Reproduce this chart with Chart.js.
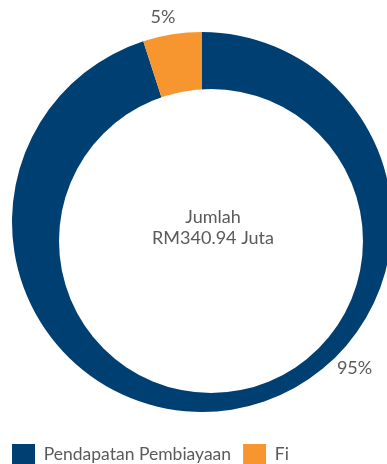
<!DOCTYPE html>
<html><head><meta charset="utf-8">
<script src="https://cdn.jsdelivr.net/npm/chart.js@4.4.0/dist/chart.umd.min.js"></script>
<style>
html,body{margin:0;padding:0;overflow:hidden;background:#fff;width:387px;height:464px}
#wrap{position:absolute;left:0;top:0;width:404px;height:474px}
</style></head>
<body><div id="wrap"><canvas id="c" width="404" height="474"></canvas></div>
<script>
const categories = ['Pendapatan Pembiayaan', 'Fi'];
const values = [95, 5];
const percentLabels = ['95%', '5%'];
const centerLines = ['Jumlah', 'RM340.94 Juta'];
const colors = ['#003f71', '#f7962f'];

const FONT = 'Lato, "Open Sans", sans-serif';
const TEXT = '#5a5a5a';

const holePlugin = {
  id: 'hole',
  afterDatasetsDraw(chart) {
    const arc = chart.getDatasetMeta(0).data[0];
    if (!arc) return;
    const {x, y, outerRadius} = arc.getProps(['x', 'y', 'outerRadius'], true);
    const ctx = chart.ctx;
    const hx = x + 9, hy = y + 19, hr = outerRadius * 0.8;
    ctx.save();
    ctx.fillStyle = '#ffffff';
    ctx.beginPath();
    ctx.arc(hx, hy, hr, 0, Math.PI * 2);
    ctx.fill();
    ctx.fillStyle = TEXT;
    ctx.font = '18px ' + FONT;
    ctx.textAlign = 'center';
    ctx.textBaseline = 'alphabetic';
    ctx.fillText(centerLines[0], hx + 2, hy - 18);
    ctx.fillText(centerLines[1], hx + 2, hy + 3);
    const labelAngles = [133.7, -10.8];
    const labelGap = [21, 18];
    ctx.textBaseline = 'middle';
    labelAngles.forEach((deg, i) => {
      const a = deg * Math.PI / 180;
      const r = outerRadius + labelGap[i];
      ctx.fillText(percentLabels[i], x + r * Math.sin(a), y - r * Math.cos(a));
    });
    ctx.restore();
  }
};

new Chart(document.getElementById('c'), {
  type: 'doughnut',
  data: {
    labels: categories,
    datasets: [{
      data: values,
      backgroundColor: colors,
      borderWidth: 0,
      radius: 190,
      cutout: '50%'
    }]
  },
  options: {
    responsive: false,
    animation: false,
    layout: {padding: {top: 12, left: 0, right: 0, bottom: 0}},
    plugins: {
      tooltip: {enabled: false},
      legend: {
        position: 'bottom',
        align: 'start',
        labels: {
          boxWidth: 23,
          boxHeight: 20,
          padding: 12,
          color: TEXT,
          font: {family: FONT, size: 17.5}
        }
      }
    }
  },
  plugins: [holePlugin]
});
</script>
</body></html>
